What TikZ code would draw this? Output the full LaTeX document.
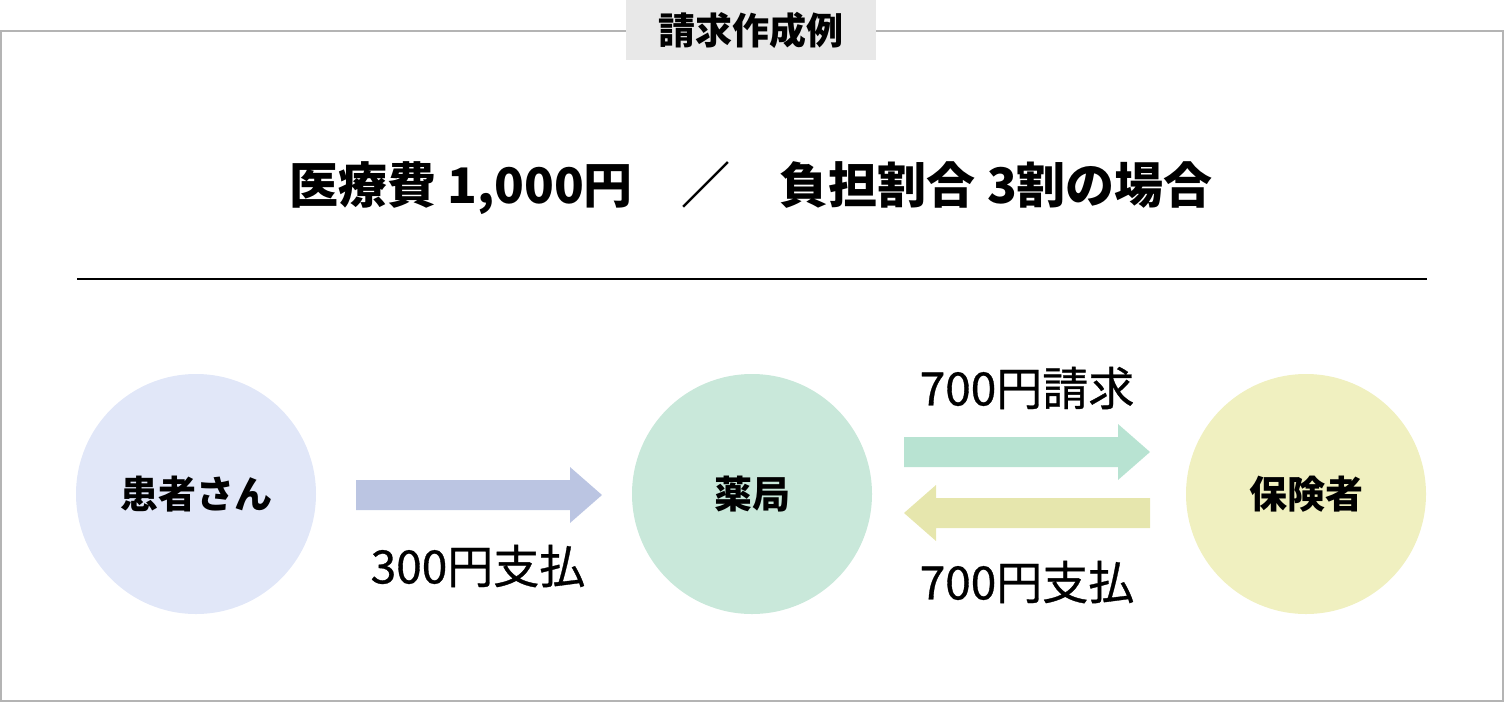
\documentclass[tikz,border=0pt]{standalone}
\usepackage{fontspec}
\setmainfont{Noto Sans CJK JP}
\newfontfamily\medfont[FakeBold=0.7]{Noto Sans CJK JP}
\usetikzlibrary{positioning}
\definecolor{frameC}{HTML}{B4B4B4}
\definecolor{tagC}{HTML}{E8E8E8}
\definecolor{patC}{HTML}{E1E7F8}
\definecolor{phaC}{HTML}{C9E8DA}
\definecolor{insC}{HTML}{F0F0C0}
\definecolor{arrA}{HTML}{BBC5E2}
\definecolor{arrB}{HTML}{B8E3D2}
\definecolor{arrC}{HTML}{E6E6AD}
\newcommand{\rarrow}[4]{% x0, x1, y (center), colour
  \fill[#4] (#1,#3-15) -- (#2-32,#3-15) -- (#2-32,#3-28) -- (#2,#3) -- (#2-32,#3+28) -- (#2-32,#3+15) -- (#1,#3+15) -- cycle;}
\newcommand{\larrow}[4]{%
  \fill[#4] (#2,#3-15) -- (#1+32,#3-15) -- (#1+32,#3-28) -- (#1,#3) -- (#1+32,#3+28) -- (#1+32,#3+15) -- (#2,#3+15) -- cycle;}
\begin{document}
\begin{tikzpicture}[x=1pt, y=-1pt]
    \tikzstyle{party} = [circle, minimum size=240pt, inner sep=0pt, font=\fontsize{38}{42}\selectfont\bfseries]
    \tikzstyle{amount} = [font=\fontsize{46}{50}\selectfont\medfont]
    \useasboundingbox (0,0) rectangle (1504,702);
    \draw[frameC, line width=1.5pt] (1,31) rectangle (1503,701);
    \node[fill=tagC, minimum width=250pt, minimum height=60pt, inner sep=0pt,
          font=\fontsize{37}{40}\selectfont\bfseries] (tag) at (751,30) {請求作成例};
    \node[font=\fontsize{49}{54}\selectfont\bfseries] (head) at (751,188)
        {医療費 1,000円\quad ／\quad 負担割合 3割の場合};
    \draw[line width=1.2pt] (77,279) -- (1427,279);
    \node[party, fill=patC] (patient) at (196,494) {患者さん};
    \node[party, fill=phaC] (pharmacy) at (752,494) {薬局};
    \node[party, fill=insC] (insurer) at (1306,494) {保険者};
    \rarrow{356}{602}{495}{arrA}
    \rarrow{904}{1150}{452}{arrB}
    \larrow{904}{1150}{513}{arrC}
    \node[amount] (pay1) at (478,566) {300円支払};
    \node[amount] (claim) at (1027,388) {700円請求};
    \node[amount] (pay2) at (1027,582) {700円支払};
\end{tikzpicture}
\end{document}
